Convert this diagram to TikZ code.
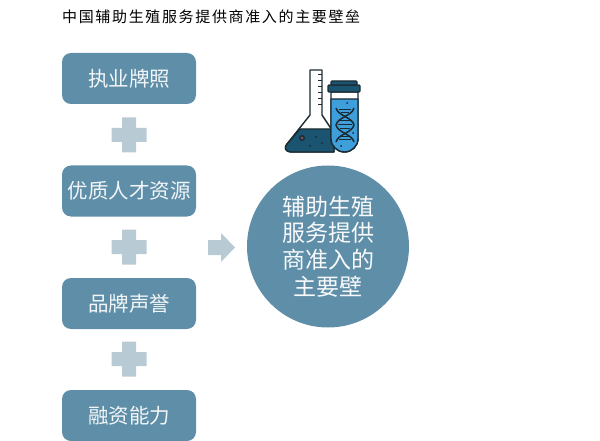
\documentclass[tikz,border=0pt]{standalone}
\usepackage{fontspec}
\setmainfont{Noto Sans CJK SC}
\newfontfamily\titlefont[LetterSpace=11]{Noto Sans CJK SC}
\definecolor{boxc}{HTML}{5F8FA8}
\definecolor{plusc}{HTML}{B8CAD4}
\definecolor{darkc}{HTML}{1B5470}
\definecolor{bluec}{HTML}{3F9FDB}
\definecolor{inkc}{HTML}{1A2B33}
\tikzset{
  x=1pt,y=-1pt,
  barrierbox/.style={fill=boxc,rounded corners=9pt,minimum width=134pt,minimum height=51pt,inner sep=0pt,text=white!92!boxc,font=\fontsize{20.5}{24}\selectfont},
  plusmark/.style={fill=plusc,draw=none},
  iconline/.style={draw=inkc,line width=1.4pt,line join=round},
}
\newcommand{\plusat}[2]{\fill[plusmark] (#1-7,#2-17.5) -- (#1+7,#2-17.5) -- (#1+7,#2-7) -- (#1+17.5,#2-7) -- (#1+17.5,#2+7) -- (#1+7,#2+7) -- (#1+7,#2+17.5) -- (#1-7,#2+17.5) -- (#1-7,#2+7) -- (#1-17.5,#2+7) -- (#1-17.5,#2-7) -- (#1-7,#2-7) -- cycle;}
\begin{document}
\begin{tikzpicture}
\useasboundingbox (0,0) rectangle (600,441);
\node[anchor=west,inner sep=0pt,font=\titlefont\fontsize{15}{18}\selectfont] (title) at (62,17) {中国辅助生殖服务提供商准入的主要壁垒};
\node[barrierbox] (b1) at (129,78.5) {执业牌照};
\node[barrierbox] (b2) at (129,191) {优质人才资源};
\node[barrierbox] (b3) at (129,303.5) {品牌声誉};
\node[barrierbox] (b4) at (129,415.5) {融资能力};
\plusat{129}{135}
\plusat{129}{247}
\plusat{129}{359}
\fill[plusc] (208,240) -- (221,240) -- (221,233) -- (235,247.5) -- (221,262) -- (221,255) -- (208,255) -- cycle;
\node[circle,fill=boxc,minimum size=162pt,inner sep=0pt,text=white!95!boxc,align=center,font=\fontsize{23}{26.7}\selectfont] (goal) at (328,246.5) {辅助生殖\\服务提供\\商准入的\\主要壁};
% flask
\path[fill=white,iconline] (310,70) -- (322,70) -- (322,115) -- (334,133) -- (334,152) -- (291,152) .. controls (285,152) and (284,147) .. (287,144) -- (310,115) -- cycle;
\path[fill=darkc,iconline] (300,129) -- (334,129) -- (334,152) -- (291,152) .. controls (285,152) and (284,147) .. (287,144) -- cycle;
\foreach \yy in {75,81,87,93,99,105} \draw[inkc,line width=1pt] (322,\yy) -- (318,\yy);
\fill[inkc] (302,138) circle (3pt);
\fill[boxc!50!darkc!70!red] (302,138) circle (1.7pt);
\foreach \xx/\yy in {316/137, 322/143, 310/146} \fill[inkc] (\xx,\yy) circle (1pt);
% tube
\path[fill=white,iconline] (331,92) -- (358,92) -- (358,138.5) arc[start angle=0,end angle=-180,radius=13.5pt] -- cycle;
\path[fill=bluec,iconline] (331,99) -- (358,99) -- (358,138.5) arc[start angle=0,end angle=-180,radius=13.5pt] -- cycle;
\path[fill=darkc,iconline,rounded corners=1pt] (328,85) rectangle (360,92);
\path[fill=darkc,iconline,rounded corners=1pt] (331,81) rectangle (357,85);
% DNA
\draw[inkc,line width=1.5pt] (336,108) .. controls (338,116) and (352,117) .. (354,125) .. controls (352,133) and (338,134) .. (336,142);
\draw[inkc,line width=1.5pt] (354,108) .. controls (352,116) and (338,117) .. (336,125) .. controls (338,133) and (352,134) .. (354,142);
\foreach \yy/\hw in {110/6,113/4,121/5,125/7,129/5,137/4,140/6} \draw[inkc,line width=1pt] (345-\hw,\yy) -- (345+\hw,\yy);
\foreach \xx/\yy in {347/103, 353/133, 341/146} \fill[inkc] (\xx,\yy) circle (1pt);
\end{tikzpicture}
\end{document}
